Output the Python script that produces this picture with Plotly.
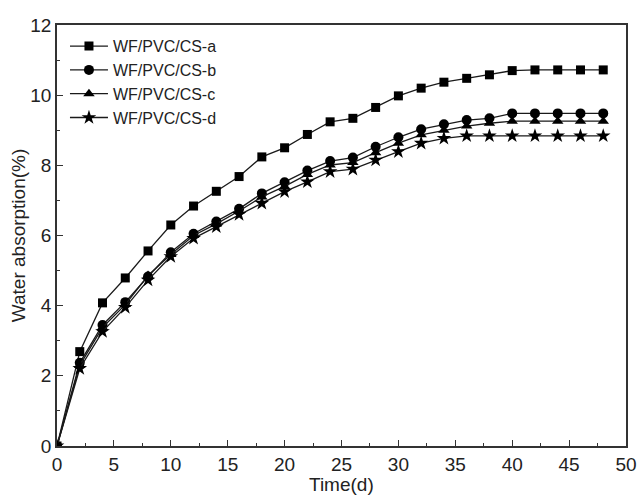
import plotly.graph_objects as go

time_d = [0, 2, 4, 6, 8, 10, 12, 14, 16, 18, 20, 22, 24, 26, 28, 30, 32, 34, 36, 38, 40, 42, 44, 46, 48]
series_a = [0, 2.69, 4.08, 4.79, 5.56, 6.30, 6.84, 7.26, 7.68, 8.24, 8.50, 8.88, 9.24, 9.34, 9.65, 9.98, 10.20, 10.37, 10.48, 10.58, 10.70, 10.72, 10.72, 10.72, 10.72]
series_b = [0, 2.37, 3.45, 4.10, 4.83, 5.52, 6.05, 6.40, 6.76, 7.20, 7.52, 7.85, 8.12, 8.22, 8.53, 8.80, 9.03, 9.17, 9.29, 9.34, 9.48, 9.48, 9.48, 9.48, 9.48]
series_c = [0, 2.30, 3.38, 4.03, 4.86, 5.46, 6.00, 6.33, 6.70, 7.10, 7.40, 7.74, 8.01, 8.08, 8.36, 8.63, 8.87, 9.00, 9.12, 9.20, 9.26, 9.26, 9.26, 9.26, 9.26]
series_d = [0, 2.21, 3.26, 3.95, 4.73, 5.40, 5.92, 6.25, 6.60, 6.92, 7.25, 7.53, 7.82, 7.89, 8.15, 8.39, 8.63, 8.77, 8.84, 8.84, 8.84, 8.84, 8.84, 8.84, 8.84]
names = ["WF/PVC/CS-a", "WF/PVC/CS-b", "WF/PVC/CS-c", "WF/PVC/CS-d"]
symbols = ["square", "circle", "triangle-up", "star"]
sizes = [9, 10, 10, 11]
x_title = "Time(d)"
y_title = "Water absorption(%)"

FONT = "Liberation Sans, Arial"
TXT = "#222222"

fig = go.Figure()
for name, ys, sym, sz in zip(names, [series_a, series_b, series_c, series_d], symbols, sizes):
    fig.add_trace(go.Scatter(
        x=time_d, y=ys, name=name, mode="lines+markers",
        line=dict(color="#1a1a1a", width=1.3),
        marker=dict(symbol=sym, size=sz, color="#000000", line=dict(width=0)),
    ))

axis_common = dict(
    showline=True, linecolor="#333333", linewidth=1.5, mirror=True,
    showgrid=False, zeroline=False, automargin=False,
    ticks="inside", ticklen=6, tickwidth=1.2, tickcolor="#333333",
    tickfont=dict(family=FONT, size=19, color=TXT),
)

fig.update_xaxes(
    range=[0, 50], dtick=5, tick0=0,
    minor=dict(ticks="inside", ticklen=3, dtick=2.5, tickcolor="#333333", tickwidth=1.2),
    **axis_common,
)
fig.update_yaxes(
    range=[0, 12], dtick=2, tick0=0,
    minor=dict(ticks="inside", ticklen=3, dtick=1, tickcolor="#333333", tickwidth=1.2),
    title=dict(text=y_title, font=dict(family=FONT, size=19, color=TXT), standoff=0),
    **axis_common,
)

fig.add_annotation(
    text=x_title, x=0.5, y=0, xref="paper", yref="paper",
    xanchor="center", yanchor="top", yshift=-26, showarrow=False,
    font=dict(family=FONT, size=19, color=TXT),
)

fig.update_layout(
    width=640, height=496,
    margin=dict(l=57, r=14, t=25, b=50),
    plot_bgcolor="white", paper_bgcolor="white",
    legend=dict(
        x=0.014, y=0.99, xanchor="left", yanchor="top",
        bgcolor="rgba(0,0,0,0)", borderwidth=0,
        font=dict(family=FONT, size=16, color=TXT),
        tracegroupgap=0, itemwidth=38,
    ),
    showlegend=True,
)

fig.write_html(
    "out.html",
    config={"displayModeBar": False},
    post_script="document.body.style.margin='0';document.body.style.overflow='hidden';",
)
